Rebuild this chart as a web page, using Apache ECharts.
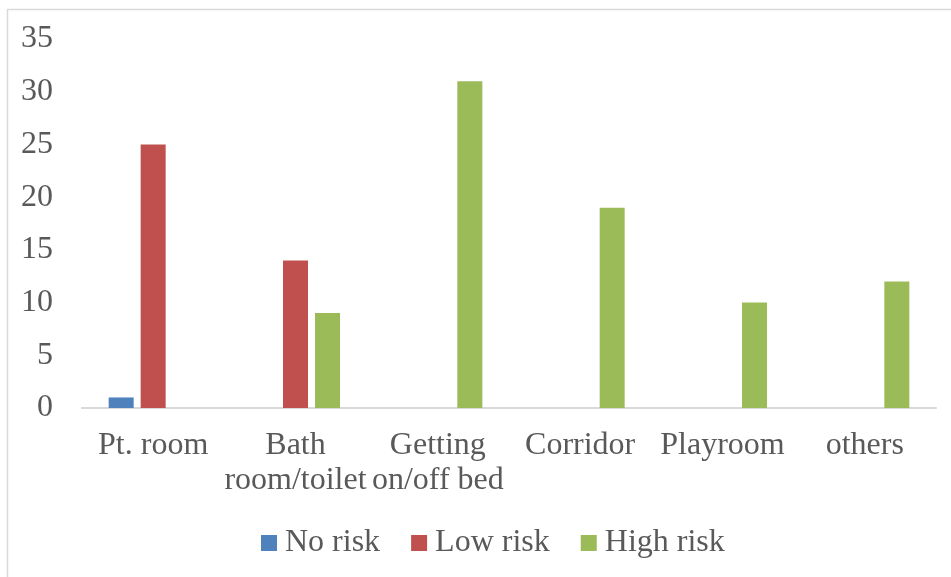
<!DOCTYPE html>
<html>
<head>
<meta charset="utf-8">
<script src="https://cdn.jsdelivr.net/npm/echarts@6/dist/echarts.min.js"></script>
<style>
html,body{margin:0;padding:0;background:#fff;}
#chart{width:951px;height:577px;}
</style>
</head>
<body>
<div id="chart"></div>
<script>
var categories = ['Pt. room', 'Bath\nroom/toilet', 'Getting\non/off bed', 'Corridor', 'Playroom', 'others'];
var noRisk = [1, 0, 0, 0, 0, 0];
var lowRisk = [25, 14, 0, 0, 0, 0];
var highRisk = [0, 9, 31, 19, 10, 12];
var seriesNames = ['No risk', 'Low risk', 'High risk'];
var yTicks = {min: 0, max: 35, interval: 5};

var font = '"Liberation Serif", "Times New Roman", serif';
var chart = echarts.init(document.getElementById('chart'), null, {renderer: 'canvas'});
function mk(name, data, color) {
  return {
    name: name, type: 'bar', data: data, barWidth: 25, barGap: '28%',
    itemStyle: {color: color},
    emphasis: {disabled: true}
  };
}
chart.setOption({
  animation: false,
  backgroundColor: '#fff',
  textStyle: {fontFamily: font},
  graphic: [{
    type: 'rect', left: 5, top: 7,
    shape: {width: 960, height: 600},
    style: {fill: 'none', stroke: '#d9d9d9', lineWidth: 1.5}
  }],
  grid: {left: 82, right: 15, top: 39, bottom: 169, containLabel: false},
  legend: {
    top: 527, left: 261, padding: 0,
    itemWidth: 16, itemHeight: 16, itemGap: 31,
    icon: 'rect',
    textStyle: {fontFamily: font, fontSize: 32, color: '#595959', padding: [0, 0, 0, 3]},
    data: seriesNames
  },
  xAxis: {
    type: 'category', data: categories,
    axisLine: {lineStyle: {color: '#d9d9d9', width: 2}},
    axisTick: {show: false},
    axisLabel: {fontFamily: font, fontSize: 32, color: '#595959', margin: 20, lineHeight: 35, interval: 0}
  },
  yAxis: {
    type: 'value', min: yTicks.min, max: yTicks.max, interval: yTicks.interval,
    axisLine: {show: false}, axisTick: {show: false},
    splitLine: {show: false},
    axisLabel: {fontFamily: font, fontSize: 32, color: '#595959', margin: 29}
  },
  series: [
    mk(seriesNames[0], noRisk, '#4f81bd'),
    mk(seriesNames[1], lowRisk, '#c0504d'),
    mk(seriesNames[2], highRisk, '#9bbb59')
  ]
});
</script>
</body>
</html>
